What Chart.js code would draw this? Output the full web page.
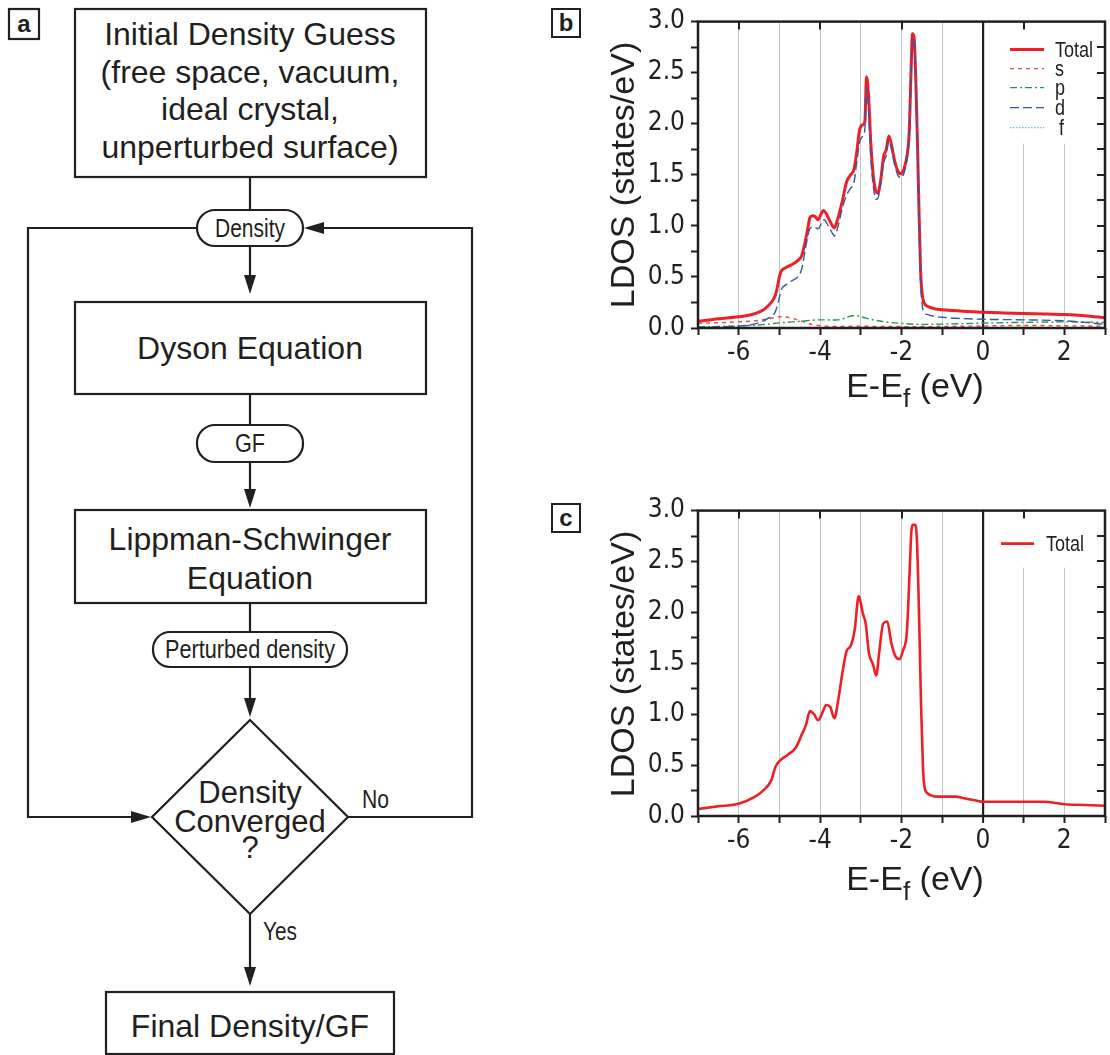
<!DOCTYPE html>
<html>
<head>
<meta charset="utf-8">
<script src="https://cdn.jsdelivr.net/npm/chart.js@4.4.0/dist/chart.umd.min.js"></script>
<style>
  html, body { margin: 0; padding: 0; background: #fff; }
  body { width: 1110px; height: 1055px; position: relative; overflow: hidden; font-family: "Liberation Sans", Arial, sans-serif; color: #231f20; }
  .plbl { position: absolute; box-sizing: border-box; width: 30px; height: 30px; border: 2px solid #231f20; font: bold 24px "Liberation Sans", Arial, sans-serif; text-align: center; line-height: 25px; }
  .ytitle { position: absolute; font: 34px "Liberation Sans", Arial, sans-serif; white-space: nowrap; line-height: 34px; transform: translate(-50%, -50%) rotate(-90deg); }
  .xtitle { position: absolute; font: 34px "Liberation Sans", Arial, sans-serif; white-space: nowrap; line-height: 34px; transform: translateX(-50%); }
  .xtitle sub { font-size: 26px; vertical-align: -10px; line-height: 0; }
  canvas { position: absolute; }
  svg { position: absolute; left: 0; top: 0; }
</style>
</head>
<body>

<svg width="480" height="1055" viewBox="0 0 480 1055">
  <g fill="none" stroke="#231f20" stroke-width="2.2">
    <rect x="9" y="9" width="30" height="30"/>
    <rect x="75" y="9" width="351" height="168"/>
    <line x1="250" y1="177" x2="250" y2="211"/>
    <rect x="197" y="210" width="106" height="36" rx="18" ry="18"/>
    <line x1="250" y1="246" x2="250" y2="278"/>
    <rect x="75" y="302" width="351" height="92"/>
    <line x1="250" y1="394" x2="250" y2="425"/>
    <rect x="197" y="425" width="106" height="37" rx="18" ry="18"/>
    <line x1="250" y1="462" x2="250" y2="492"/>
    <rect x="75" y="510" width="351" height="93"/>
    <line x1="250" y1="603" x2="250" y2="632"/>
    <rect x="153" y="632" width="194" height="35" rx="17" ry="17"/>
    <line x1="250" y1="667" x2="250" y2="700"/>
    <polygon points="250,720 348,817 250,914 152,817"/>
    <line x1="250" y1="914" x2="250" y2="970"/>
    <rect x="106" y="992" width="288" height="62"/>
    <polyline points="197,228 28,228 28,817 134,817"/>
    <polyline points="348,817 472,817 472,228 322,228"/>
  </g>
  <g fill="#231f20" stroke="none">
    <polygon points="250,294 244,275 256,275"/>
    <polygon points="250,508 244,489 256,489"/>
    <polygon points="250,717 244,698 256,698"/>
    <polygon points="250,986 244,967 256,967"/>
    <polygon points="151,817 131,811 131,823"/>
    <polygon points="304,228 324,222 324,234"/>
  </g>
  <g fill="#231f20" font-family="Liberation Sans, Arial, sans-serif" font-size="32" text-anchor="middle">
    <text x="24" y="32" font-size="24" font-weight="bold">a</text>
    <text x="250" y="45">Initial Density Guess</text>
    <text x="250" y="82.5">(free space, vacuum,</text>
    <text x="250" y="120">ideal crystal,</text>
    <text x="250" y="158">unperturbed surface)</text>
    <text x="250" y="359">Dyson Equation</text>
    <text x="250" y="550">Lippman-Schwinger</text>
    <text x="250" y="589">Equation</text>
    <text x="250" y="803" font-size="31">Density</text>
    <text x="250" y="832" font-size="31">Converged</text>
    <text x="250" y="858" font-size="31">?</text>
    <text x="250" y="1037">Final Density/GF</text>
  </g>
  <g fill="#231f20" font-family="Liberation Sans, Arial, sans-serif" font-size="26">
    <text x="215" y="237" textLength="70" lengthAdjust="spacingAndGlyphs">Density</text>
    <text x="235" y="452" textLength="30" lengthAdjust="spacingAndGlyphs">GF</text>
    <text x="165" y="658" textLength="170" lengthAdjust="spacingAndGlyphs">Perturbed density</text>
    <text x="362" y="808" textLength="27" lengthAdjust="spacingAndGlyphs">No</text>
    <text x="263" y="940" textLength="34" lengthAdjust="spacingAndGlyphs">Yes</text>
  </g>
</svg>

<div class="plbl" style="left:551px; top:8px;">b</div>
<div class="plbl" style="left:551px; top:503px;">c</div>

<canvas id="chartB" width="550" height="420" style="left:560px; top:0px;"></canvas>
<canvas id="chartC" width="550" height="420" style="left:560px; top:489px;"></canvas>

<div class="ytitle" style="left:622px; top:175px;">LDOS (states/eV)</div>
<div class="ytitle" style="left:622px; top:664px;">LDOS (states/eV)</div>
<div class="xtitle" style="left:915px; top:368px;">E-E<sub>f</sub> (eV)</div>
<div class="xtitle" style="left:915px; top:861px;">E-E<sub>f</sub> (eV)</div>

<script>
// ---------------- DATA ----------------
// Axis ticks
const xTickValues = [-7, -6, -5, -4, -3, -2, -1, 0, 1, 2, 3];
const xLabelValues = [-6, -4, -2, 0, 2];
const yTickValues = [0, 0.25, 0.5, 0.75, 1, 1.25, 1.5, 1.75, 2, 2.25, 2.5, 2.75, 3];
const yLabelValues = [0, 0.5, 1, 1.5, 2, 2.5, 3];
const topTickValues = [-6, -4, -2, 0, 1];
const rightTickValues = [0.25, 0.5, 0.75, 1, 1.25, 1.5, 1.75, 2, 2.25, 2.5, 2.75];

// Panel b : Total LDOS
const bTotalE = [-7.0, -6.5, -6.0, -5.7, -5.5, -5.35, -5.2, -5.1, -5.05, -5.0, -4.95, -4.85, -4.7, -4.55, -4.45, -4.38, -4.3, -4.25, -4.18, -4.12, -4.05, -3.97, -3.92, -3.85, -3.75, -3.65, -3.58, -3.45, -3.35, -3.25, -3.17, -3.1, -3.03, -2.95, -2.9, -2.86, -2.81, -2.75, -2.69, -2.63, -2.58, -2.51, -2.44, -2.38, -2.31, -2.25, -2.17, -2.08, -2.0, -1.93, -1.86, -1.81, -1.77, -1.73, -1.69, -1.65, -1.61, -1.57, -1.53, -1.49, -1.45, -1.35, -1.2, -1.0, -0.5, 0.0, 0.5, 1.0, 1.5, 2.0, 2.5, 3.0];
const bTotalV = [0.065, 0.09, 0.11, 0.13, 0.155, 0.19, 0.25, 0.32, 0.40, 0.50, 0.56, 0.59, 0.62, 0.66, 0.71, 0.82, 0.98, 1.08, 1.10, 1.09, 1.06, 1.12, 1.15, 1.12, 1.04, 0.98, 1.05, 1.25, 1.43, 1.50, 1.55, 1.72, 1.94, 1.99, 2.02, 2.46, 2.28, 1.78, 1.48, 1.34, 1.32, 1.45, 1.68, 1.74, 1.88, 1.80, 1.64, 1.53, 1.51, 1.57, 1.70, 1.92, 2.45, 2.88, 2.84, 2.45, 1.85, 1.15, 0.55, 0.33, 0.25, 0.21, 0.19, 0.178, 0.165, 0.155, 0.148, 0.142, 0.138, 0.132, 0.12, 0.10];

// Panel b : s, p, d, f projected LDOS
const bSE = [-7.0, -6.0, -5.5, -5.2, -5.0, -4.8, -4.6, -4.4, -4.2, -4.0, -3.5, -3.0, -2.5, -2.0, -1.5, -1.0, 0.0, 1.0, 2.0, 3.0];
const bSV = [0.045, 0.06, 0.075, 0.095, 0.11, 0.105, 0.085, 0.06, 0.035, 0.022, 0.015, 0.018, 0.014, 0.014, 0.012, 0.015, 0.02, 0.025, 0.022, 0.018];

const bPE = [-7.0, -6.5, -6.0, -5.5, -5.0, -4.5, -4.0, -3.6, -3.4, -3.2, -3.1, -2.95, -2.7, -2.4, -2.0, -1.5, -1.0, 0.0, 1.0, 2.0, 3.0];
const bPV = [0.01, 0.015, 0.02, 0.03, 0.05, 0.065, 0.08, 0.078, 0.095, 0.12, 0.12, 0.105, 0.08, 0.06, 0.045, 0.035, 0.038, 0.048, 0.055, 0.06, 0.055];

const bDE = [-7.0, -6.5, -6.0, -5.6, -5.3, -5.1, -5.0, -4.95, -4.85, -4.7, -4.55, -4.45, -4.35, -4.25, -4.15, -4.05, -3.95, -3.9, -3.8, -3.7, -3.65, -3.57, -3.45, -3.35, -3.25, -3.17, -3.1, -3.03, -2.95, -2.9, -2.86, -2.81, -2.75, -2.69, -2.63, -2.58, -2.51, -2.44, -2.38, -2.31, -2.25, -2.17, -2.08, -2.0, -1.93, -1.86, -1.81, -1.77, -1.73, -1.69, -1.65, -1.61, -1.57, -1.53, -1.49, -1.45, -1.35, -1.2, -1.0, -0.5, 0.0, 1.0, 2.0, 2.5, 3.0];
const bDV = [0.005, 0.01, 0.02, 0.04, 0.09, 0.16, 0.30, 0.38, 0.42, 0.46, 0.50, 0.58, 0.80, 0.97, 0.99, 0.97, 1.04, 1.06, 1.00, 0.93, 0.90, 0.98, 1.18, 1.30, 1.37, 1.42, 1.62, 1.82, 1.88, 1.95, 2.35, 2.13, 1.64, 1.38, 1.26, 1.27, 1.42, 1.62, 1.68, 1.83, 1.76, 1.60, 1.49, 1.47, 1.53, 1.66, 1.88, 2.40, 2.84, 2.80, 2.40, 1.78, 1.08, 0.45, 0.22, 0.16, 0.13, 0.115, 0.105, 0.092, 0.085, 0.08, 0.07, 0.055, 0.035];

const bFE = [-7.0, -5.0, -3.0, -1.0, 1.0, 3.0];
const bFV = [0.004, 0.004, 0.004, 0.004, 0.004, 0.004];

// Panel c : Total LDOS
const cTotalE = [-7.0, -6.5, -6.0, -5.6, -5.4, -5.2, -5.1, -5.0, -4.8, -4.6, -4.45, -4.35, -4.25, -4.15, -4.05, -3.95, -3.85, -3.75, -3.65, -3.55, -3.45, -3.35, -3.25, -3.15, -3.05, -2.95, -2.88, -2.8, -2.7, -2.62, -2.55, -2.45, -2.35, -2.25, -2.15, -2.05, -1.96, -1.87, -1.8, -1.76, -1.72, -1.66, -1.62, -1.57, -1.52, -1.47, -1.44, -1.38, -1.1, -0.7, -0.4, -0.1, 0.0, 0.5, 1.0, 1.5, 2.0, 2.5, 3.0];
const cTotalV = [0.068, 0.095, 0.12, 0.19, 0.25, 0.35, 0.48, 0.54, 0.60, 0.67, 0.80, 0.89, 1.03, 1.00, 0.94, 1.01, 1.09, 1.07, 0.96, 1.15, 1.41, 1.62, 1.67, 1.83, 2.16, 1.99, 1.89, 1.60, 1.49, 1.38, 1.60, 1.89, 1.91, 1.70, 1.57, 1.54, 1.63, 1.80, 2.40, 2.78, 2.86, 2.86, 2.70, 2.00, 1.10, 0.45, 0.30, 0.23, 0.19, 0.19, 0.17, 0.145, 0.14, 0.14, 0.14, 0.14, 0.115, 0.108, 0.10];

// ---------------- CHARTS ----------------
const NARROW = '"Liberation Sans Narrow", "Arial Narrow", "DejaVu Sans Condensed", sans-serif';
const INK = '#231f20';

function pts(xs, ys) { return xs.map((x, i) => ({ x: x, y: ys[i] })); }

function makeFrame(cfg) {
  return {
    id: 'frame',
    beforeDatasetsDraw(chart) {
      const { ctx, chartArea: a } = chart;
      ctx.save();
      ctx.fillStyle = '#fff';
      ctx.fillRect(a.right - cfg.boxW, a.top, cfg.boxW, cfg.boxH);
      ctx.restore();
    },
    afterDatasetsDraw(chart) {
      const { ctx, chartArea: a, scales } = chart;
      ctx.save();
      ctx.strokeStyle = INK;
      ctx.lineWidth = 2.5;
      ctx.strokeRect(a.left, a.top, a.right - a.left, a.bottom - a.top);
      ctx.lineWidth = 2;
      ctx.beginPath();
      topTickValues.forEach(v => { const px = Math.round(scales.x.getPixelForValue(v)); ctx.moveTo(px, a.top); ctx.lineTo(px, a.top + 8); });
      rightTickValues.forEach(v => { const py = Math.round(scales.y.getPixelForValue(v)); ctx.moveTo(a.right, py); ctx.lineTo(a.right - 8, py); });
      ctx.stroke();
      // legend
      cfg.items.forEach(it => {
        const ds = chart.data.datasets[it.index];
        const ly = a.top + it.dy;
        ctx.strokeStyle = ds.borderColor;
        ctx.lineWidth = ds.borderWidth;
        ctx.setLineDash(ds.borderDash || []);
        ctx.beginPath();
        ctx.moveTo(a.right - cfg.lineStart, ly);
        ctx.lineTo(a.right - cfg.lineEnd, ly);
        ctx.stroke();
        ctx.setLineDash([]);
        ctx.save();
        ctx.translate(a.right - cfg.textStart + (it.dx || 0), ly + 1);
        ctx.scale(0.82, 1);
        ctx.font = '22px "Liberation Sans", Arial, sans-serif';
        ctx.textBaseline = 'middle';
        ctx.textAlign = 'left';
        ctx.fillStyle = INK;
        ctx.fillText(ds.label, 0, 0);
        ctx.restore();
      });
      ctx.restore();
    }
  };
}

function makeOptions(bottomH) {
  return {
    responsive: false,
    animation: false,
    events: [],
    layout: { padding: { top: 15, right: 5, left: 0, bottom: 0 } },
    plugins: { legend: { display: false }, tooltip: { enabled: false } },
    elements: {
      point: { radius: 0 },
      line: { tension: 0.4, cubicInterpolationMode: 'monotone', borderCapStyle: 'butt', borderJoinStyle: 'round', fill: false }
    },
    scales: {
      x: {
        type: 'linear', min: -7, max: 3,
        afterFit: s => { s.height = bottomH; },
        afterBuildTicks: s => { s.ticks = xTickValues.map(v => ({ value: v })); },
        ticks: {
          autoSkip: false, maxRotation: 0, minRotation: 0, padding: 3, color: INK,
          font: { family: NARROW, size: 26 },
          callback: v => xLabelValues.includes(v) ? String(v) : ''
        },
        grid: {
          drawOnChartArea: true, drawTicks: true, tickLength: 7, tickColor: INK, tickWidth: 2,
          color: c => { const v = c.tick ? c.tick.value : null; if (v === 0) return INK; if (v === -7 || v === 3) return 'rgba(0,0,0,0)'; return '#c4c4c4'; },
          lineWidth: c => (c.tick && c.tick.value === 0) ? 2.2 : 1
        },
        border: { display: false }
      },
      y: {
        type: 'linear', min: 0, max: 3,
        afterFit: s => { s.width = 138; },
        afterBuildTicks: s => { s.ticks = yTickValues.map(v => ({ value: v })); },
        ticks: {
          autoSkip: false, padding: 6, color: INK,
          font: { family: NARROW, size: 26 },
          callback: v => yLabelValues.includes(v) ? v.toFixed(1) : ''
        },
        grid: { drawOnChartArea: false, drawTicks: true, tickLength: 7, tickColor: INK, tickWidth: 2 },
        border: { display: false }
      }
    }
  };
}

new Chart(document.getElementById('chartB'), {
  type: 'line',
  data: {
    datasets: [
      { label: 'Total', data: pts(bTotalE, bTotalV), borderColor: '#ee1f26', borderWidth: 3, order: 5 },
      { label: 's', data: pts(bSE, bSV), borderColor: '#f2444a', borderWidth: 1.4, borderDash: [4, 4], order: 4 },
      { label: 'p', data: pts(bPE, bPV), borderColor: '#22994a', borderWidth: 1.4, borderDash: [7, 3, 2, 3], order: 3 },
      { label: 'd', data: pts(bDE, bDV), borderColor: '#3358a8', borderWidth: 1.4, borderDash: [9, 4], order: 1 },
      { label: 'f', data: pts(bFE, bFV), borderColor: '#5cc4d6', borderWidth: 1.4, borderDash: [1.5, 1.5], order: 2 }
    ]
  },
  options: makeOptions(92),
  plugins: [makeFrame({
    boxW: 105, boxH: 122, lineStart: 95, lineEnd: 61, textStart: 50,
    items: [ { index: 0, dy: 28 }, { index: 1, dy: 47 }, { index: 2, dy: 66 }, { index: 3, dy: 86 }, { index: 4, dy: 106, dx: 4 } ]
  })]
});

new Chart(document.getElementById('chartC'), {
  type: 'line',
  data: {
    datasets: [
      { label: 'Total', data: pts(cTotalE, cTotalV), borderColor: '#ee1f26', borderWidth: 2.6 }
    ]
  },
  options: makeOptions(93),
  plugins: [makeFrame({
    boxW: 110, boxH: 57, lineStart: 104, lineEnd: 71, textStart: 59,
    items: [ { index: 0, dy: 33 } ]
  })]
});
</script>
</body>
</html>
